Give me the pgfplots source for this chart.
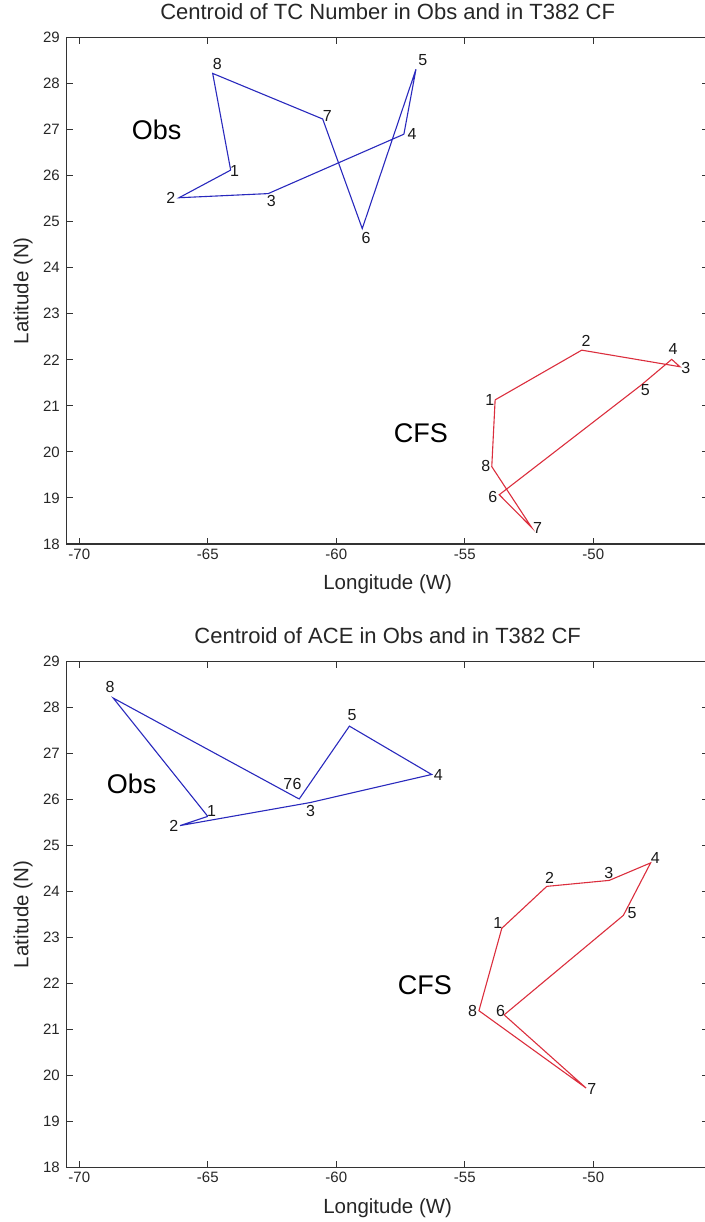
\documentclass[border=0pt]{standalone}
\usepackage{fontspec}
\setmainfont{Liberation Sans}
\usepackage{pgfplots}
\pgfplotsset{compat=1.18}
\usepackage{pgfplotstable}

\definecolor{obsblue}{rgb}{0.16,0.16,0.74}
\definecolor{cfsred}{rgb}{0.86,0.18,0.24}
\definecolor{axisgray}{rgb}{0.2,0.2,0.2}

% Centroid tracks (lon, lat), closed loop 1..8 -> 1
\pgfplotstableread{
lon lat
-64.11 26.12
-66.12 25.52
-62.65 25.61
-57.37 26.90
-56.90 28.31
-58.99 24.85
-60.53 27.23
-64.81 28.22
-64.11 26.12
}\tcobs
\pgfplotstableread{
lon lat
-53.82 21.13
-50.45 22.21
-46.63 21.85
-46.95 22.01
-48.14 21.45
-53.66 19.07
-52.40 18.36
-53.95 19.68
-53.82 21.13
}\tccfs
\pgfplotstableread{
lon lat
-65.00 25.63
-66.08 25.43
-61.02 25.93
-56.29 26.54
-59.49 27.59
-61.44 26.01
-61.52 26.03
-68.68 28.20
-65.00 25.63
}\aceobs
\pgfplotstableread{
lon lat
-53.56 23.20
-51.81 24.11
-49.38 24.24
-47.77 24.62
-48.83 23.48
-53.47 21.32
-50.28 19.73
-54.45 21.41
-53.56 23.20
}\acecfs

% Label positions (lon, lat, text)
\pgfplotstableread{
lon lat lab
-63.96 26.11 1
-66.44 25.52 2
-62.53 25.46 3
-57.05 26.90 4
-56.63 28.51 5
-58.84 24.65 6
-60.35 27.30 7
-64.63 28.42 8
}\tcobslab
\pgfplotstableread{
lon lat lab
-54.03 21.13 1
-50.28 22.42 2
-46.40 21.83 3
-46.90 22.23 4
-47.98 21.34 5
-53.91 19.03 6
-52.17 18.34 7
-54.18 19.70 8
}\tccfslab
\pgfplotstableread{
lon lat lab
-64.85 25.74 1
-66.32 25.42 2
-61.00 25.74 3
-56.03 26.53 4
-59.39 27.83 5
-61.53 26.33 6
-61.89 26.33 7
-68.80 28.43 8
}\aceobslab
\pgfplotstableread{
lon lat lab
-53.72 23.31 1
-51.70 24.29 2
-49.40 24.40 3
-47.59 24.73 4
-48.49 23.52 5
-53.61 21.40 6
-50.06 19.71 7
-54.70 21.40 8
}\acecfslab

\pgfplotsset{
  panel/.style={
    scale only axis, width=642.5pt, height=506.5pt,
    xmin=-70.5, xmax=-45.5, ymin=18, ymax=29,
    xtick={-70,-65,-60,-55,-50}, xticklabels={-70,-65,-60,-55,-50},
    ytick={18,19,...,29},
    tick align=inside, tick pos=both,
    major tick length=6.5pt,
    /pgf/number format/assume math mode=true,
    tick label style={font=\fontsize{15}{15}\selectfont, inner sep=0pt, text=black!85},
    xticklabel style={anchor=north, yshift=-4.5pt},
    yticklabel style={anchor=east, xshift=-6.5pt},
    axis line style={line width=1.3pt, axisgray},
    major tick style={line width=1pt, axisgray},
    title style={font=\fontsize{22}{22}\selectfont, at={(axis description cs:0.5,1.039)}, anchor=center, text=black!85},
    xlabel style={font=\fontsize{20.5}{20.5}\selectfont, at={(axis description cs:0.5,-0.079)}, anchor=center, text=black!85},
    ylabel style={font=\fontsize{20.5}{20.5}\selectfont, at={(axis description cs:-0.0676,0.5)}, anchor=center, text=black!85},
    xlabel={Longitude (W)}, ylabel={Latitude (N)},
  },
  track/.style={line width=1.1pt, mark=none},
  nums/.style={draw=none, mark=none, nodes near coords, point meta=explicit symbolic,
    nodes near coords style={anchor=center, inner sep=0pt, font=\fontsize{16}{16}\selectfont, text=black!90}},
  grp/.style={draw=none, mark=none, nodes near coords, point meta=explicit symbolic,
    nodes near coords style={anchor=center, inner sep=0pt, font=\fontsize{27}{27}\selectfont, text=black}},
}

\begin{document}
\begin{tikzpicture}
% TC number panel
\begin{axis}[panel, at={(66.45pt,-544pt)}, anchor=south west,
  title={Centroid of TC Number in Obs and in T382 CF}]
  \addplot[track, obsblue] table[x=lon, y=lat] {\tcobs};
  \addplot[track, cfsred] table[x=lon, y=lat] {\tccfs};
  \addplot[nums] table[x=lon, y=lat, meta=lab] {\tcobslab};
  \addplot[nums] table[x=lon, y=lat, meta=lab] {\tccfslab};
  \addplot[grp] table[x=lon, y=lat, meta=lab] {
lon lat lab
-66.99 26.99 Obs
-56.71 20.40 CFS
};
\end{axis}
% ACE panel
\begin{axis}[panel, at={(66.45pt,-1167.7pt)}, anchor=south west,
  title={Centroid of ACE in Obs and in T382 CF}]
  \addplot[track, obsblue] table[x=lon, y=lat] {\aceobs};
  \addplot[track, cfsred] table[x=lon, y=lat] {\acecfs};
  \addplot[nums] table[x=lon, y=lat, meta=lab] {\aceobslab};
  \addplot[nums] table[x=lon, y=lat, meta=lab] {\acecfslab};
  \addplot[grp] table[x=lon, y=lat, meta=lab] {
lon lat lab
-67.96 26.33 Obs
-56.55 21.97 CFS
};
\end{axis}
\pgfresetboundingbox
\path[use as bounding box] (0pt,0pt) rectangle (704pt,-1222pt);
\end{tikzpicture}
\end{document}
